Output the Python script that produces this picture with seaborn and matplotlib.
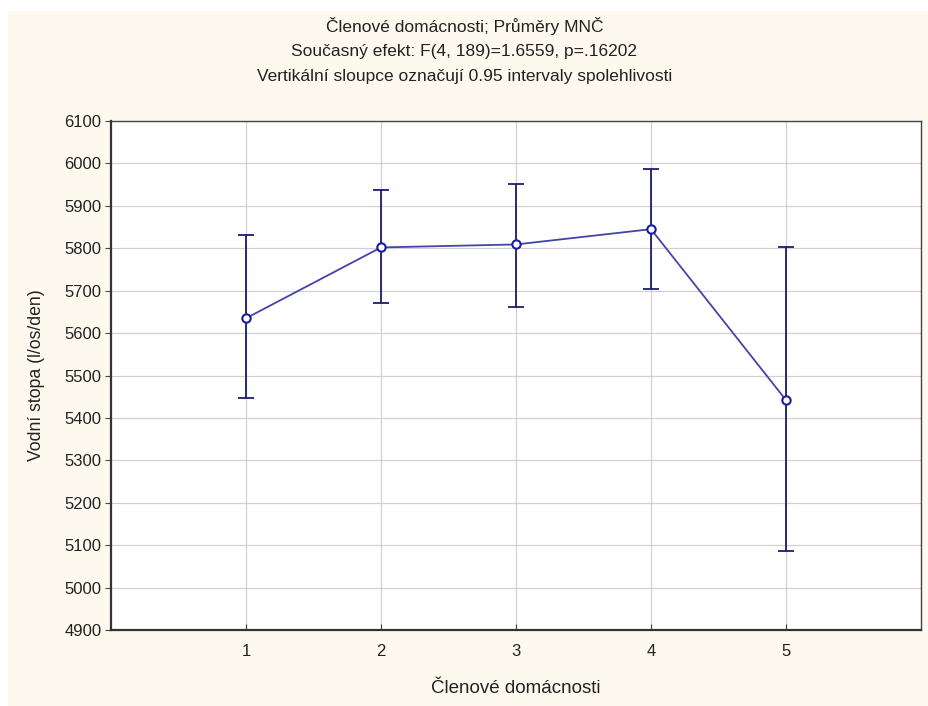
import numpy as np
import pandas as pd
import matplotlib
matplotlib.use("Agg")
import matplotlib.pyplot as plt
import seaborn as sns
from matplotlib.patches import Rectangle

# values
members = [1, 2, 3, 4, 5]
means = [5635, 5802, 5809, 5845, 5442]
ci_upper = [5831, 5938, 5952, 5987, 5804]
ci_lower = [5447, 5671, 5661, 5703, 5086]

title_lines = [
    "Členové domácnosti; Průměry MNČ",
    "Současný efekt: F(4, 189)=1.6559, p=.16202",
    "Vertikální sloupce označují 0.95 intervaly spolehlivosti",
]
xlabel = "Členové domácnosti"
ylabel = "Vodní stopa (l/os/den)"

df = pd.DataFrame({"members": members, "mean": means,
                   "upper": ci_upper, "lower": ci_lower})

sns.set_style("white")
plt.rcParams["font.family"] = ["Liberation Sans", "DejaVu Sans"]

bg = "#fdf9ef"
fig = plt.figure(figsize=(9.29, 7.06), dpi=100, facecolor=bg)
# white strip at the top and left edge like the screenshot
fig.patches.append(Rectangle((0, 1 - 11 / 706), 1, 11 / 706, transform=fig.transFigure,
                             facecolor="white", edgecolor="none", zorder=-1))
fig.patches.append(Rectangle((0, 0), 8 / 929, 1, transform=fig.transFigure,
                             facecolor="white", edgecolor="none", zorder=-1))

ax = fig.add_axes([0.1195, 0.1076, 0.8719, 0.721])
ax.set_facecolor("white")

err = np.array([df["mean"] - df["lower"], df["upper"] - df["mean"]])
ax.errorbar(df["members"], df["mean"], yerr=err, fmt="none", ecolor="#1c1c6a",
            elinewidth=1.3, capsize=6, capthick=1.3, zorder=3)
sns.lineplot(data=df, x="members", y="mean", ax=ax, color="#4444a8", linewidth=1.3,
             marker="o", markersize=6, markerfacecolor="white",
             markeredgecolor="#1c1ca0", markeredgewidth=1.5, zorder=4)

ax.set_xlim(0, 6)
ax.set_ylim(4900, 6100)
ax.set_xticks(members)
ax.set_yticks(np.arange(4900, 6101, 100))
ax.grid(True, color="#d0d0d0", linewidth=0.9)
ax.set_axisbelow(True)

for side in ["left", "bottom"]:
    ax.spines[side].set_color("#333333")
    ax.spines[side].set_linewidth(1.6)
for side in ["top", "right"]:
    ax.spines[side].set_color("#444444")
    ax.spines[side].set_linewidth(1.0)

ax.tick_params(axis="y", direction="out", length=4, width=0.8, colors="#444444",
               labelsize=12, labelcolor="#222222", pad=3)
ax.tick_params(axis="x", direction="in", length=4, width=0.8, colors="#444444",
               labelsize=12, labelcolor="#222222", pad=10)
ax.tick_params(left=True, bottom=True)

ax.set_xlabel(xlabel, fontsize=13.5, color="#222222", labelpad=15)
ax.set_ylabel(ylabel, fontsize=12.7, color="#222222", labelpad=14)

for i, line in enumerate(title_lines):
    fig.text(0.5, 1 - (26 + 25.5 * i) / 706, line, ha="center", va="center",
             fontsize=12.5, color="#222222")

fig.savefig("out.png", dpi=100, facecolor=fig.get_facecolor())
